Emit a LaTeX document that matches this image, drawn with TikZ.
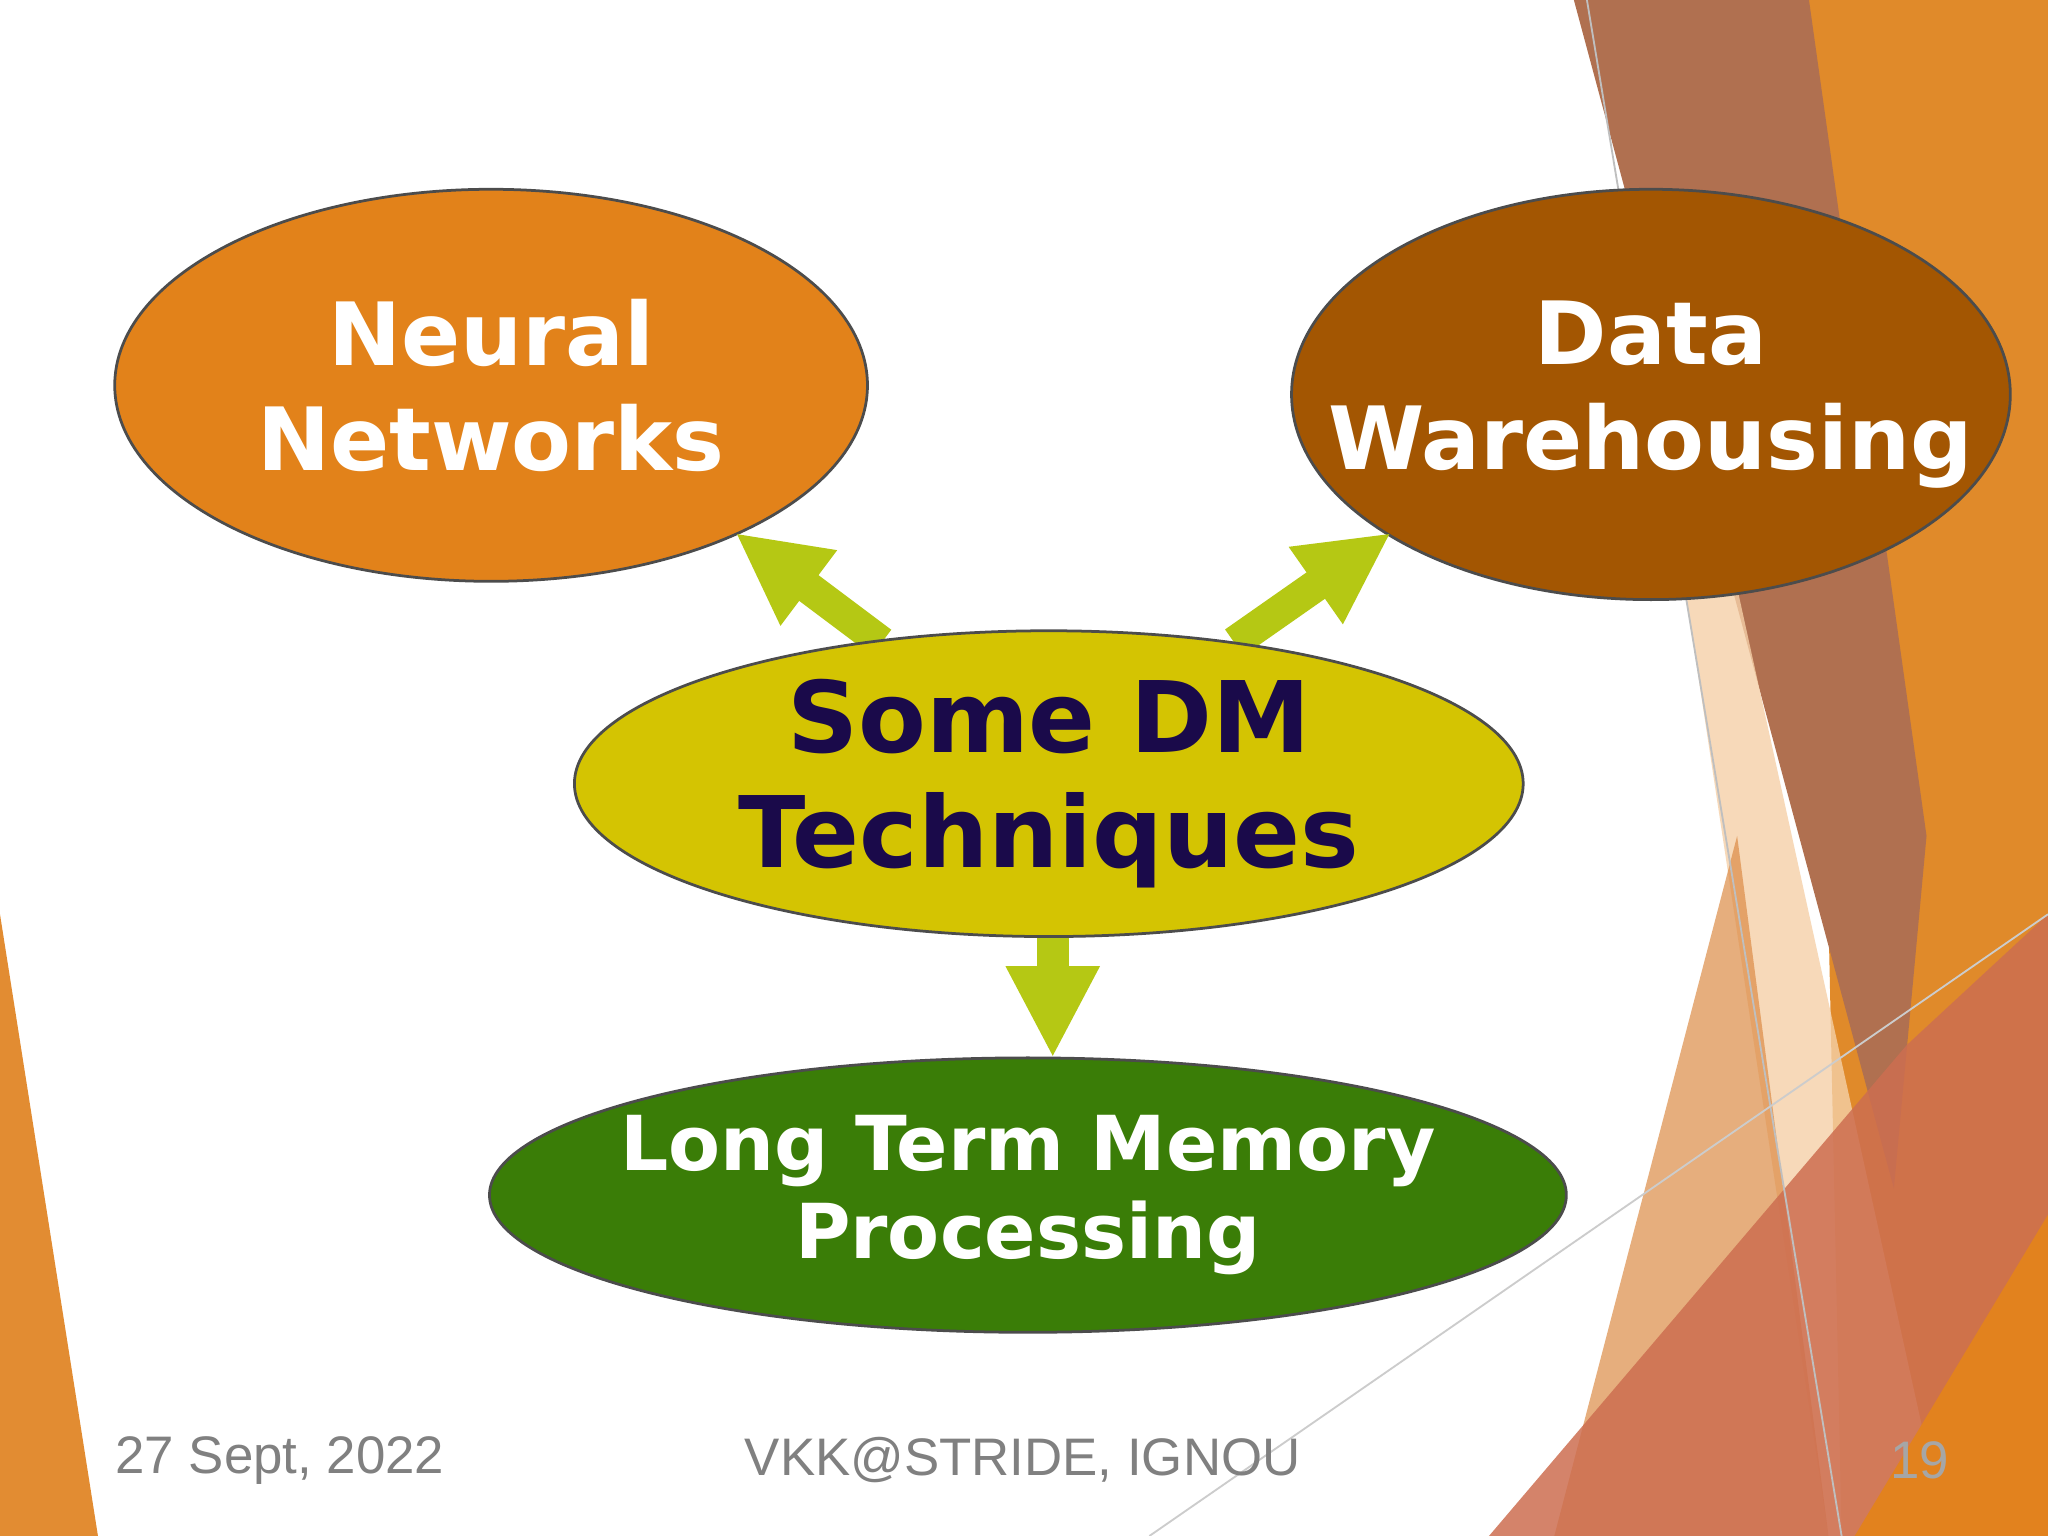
\documentclass[tikz,border=0pt]{standalone}
\usepackage{fontspec}
\setmainfont{DejaVu Sans}
\newfontfamily\foot{Liberation Sans}
\usetikzlibrary{arrows.meta,shapes.geometric}
\definecolor{nn}{HTML}{E2821A}
\definecolor{dw}{HTML}{A35602}
\definecolor{dm}{HTML}{D4C402}
\definecolor{lt}{HTML}{3A7D07}
\definecolor{ar}{HTML}{B5C814}
\definecolor{navy}{HTML}{1A0A4A}
\begin{document}
\begin{tikzpicture}[x=0.01cm,y=-0.01cm,
  ell/.style={ellipse,draw=black!70,line width=0.6pt,align=center,inner xsep=-4cm,inner ysep=-3cm,text=white},
  arr/.style={draw=ar,line width=7pt,-{Triangle[length=20pt,width=19pt]}},
  ft/.style={text=black!50,font=\foot\fontsize{11.5}{14}\selectfont},
  dms/.style={ell,fill=dm,text=navy,minimum width=7.26cm,minimum height=2.34cm,font=\bfseries\fontsize{21.5}{25}\selectfont}]
\useasboundingbox (0,0) rectangle (1568,1176);
\fill[white] (0,0) rectangle (1568,1176);
% background decorations
\fill[color={rgb,255:red,224;green,138;blue,42}] (1385,0)--(1568,0)--(1568,1176)--(1410,1176)--cycle;
\fill[color={rgb,255:red,176;green,112;blue,80}] (1205,0)--(1385,0)--(1475,640)--(1450,910)--cycle;
\fill[color={rgb,255:red,245;green,208;blue,168},opacity=0.8] (1290,450)--(1330,450)--(1490,1176)--(1400,1176)--cycle;
\fill[color={rgb,255:red,220;green,140;blue,70},opacity=0.7] (1190,1176)--(1330,640)--(1400,1176)--cycle;
\fill[color={rgb,255:red,205;green,110;blue,80},opacity=0.85] (1140,1176)--(1460,800)--(1568,700)--(1568,1176)--cycle;
\fill[color={rgb,255:red,226;green,130;blue,30}] (1420,1176)--(1568,930)--(1568,1176)--cycle;
\fill[color={rgb,255:red,226;green,140;blue,50}] (0,700)--(0,1176)--(75,1176)--cycle;
\draw[black!25,line width=0.4pt] (1215,0)--(1410,1176);
\draw[black!20,line width=0.4pt] (880,1176)--(1568,700);
% nodes
\node[ell,fill=nn,minimum width=5.76cm,minimum height=3.0cm,font=\bfseries\fontsize{19}{23}\selectfont] (nn) at (376,295) {Neural\\Networks};
\node[ell,fill=dw,minimum width=5.5cm,minimum height=3.14cm,font=\bfseries\fontsize{19}{23}\selectfont] (dw) at (1264,302) {Data\\Warehousing};
\node[ell,fill=lt,minimum width=8.24cm,minimum height=2.1cm,font=\bfseries\fontsize{16.5}{19}\selectfont] (lt) at (787,915) {Long Term Memory\\Processing};
\coordinate (a1) at (675,492); \coordinate (a2) at (945,492); \coordinate (a3) at (806,718);
\coordinate (t1) at (563,408); \coordinate (t2) at (1065,408); \coordinate (t3) at (806,810);
\draw[arr] (a1) -- (t1);
\draw[arr] (a2) -- (t2);
\draw[arr] (a3) -- (t3);
\node[dms] (dm) at (803,600) {Some DM\\Techniques};
% footer
\node[ft,anchor=west] (f1) at (76,1118) {27 Sept, 2022};
\node[ft] (f2) at (783,1118) {VKK@STRIDE, IGNOU};
\node[ft,text=black!35] (f3) at (1470,1118) {19};
\end{tikzpicture}
\end{document}
